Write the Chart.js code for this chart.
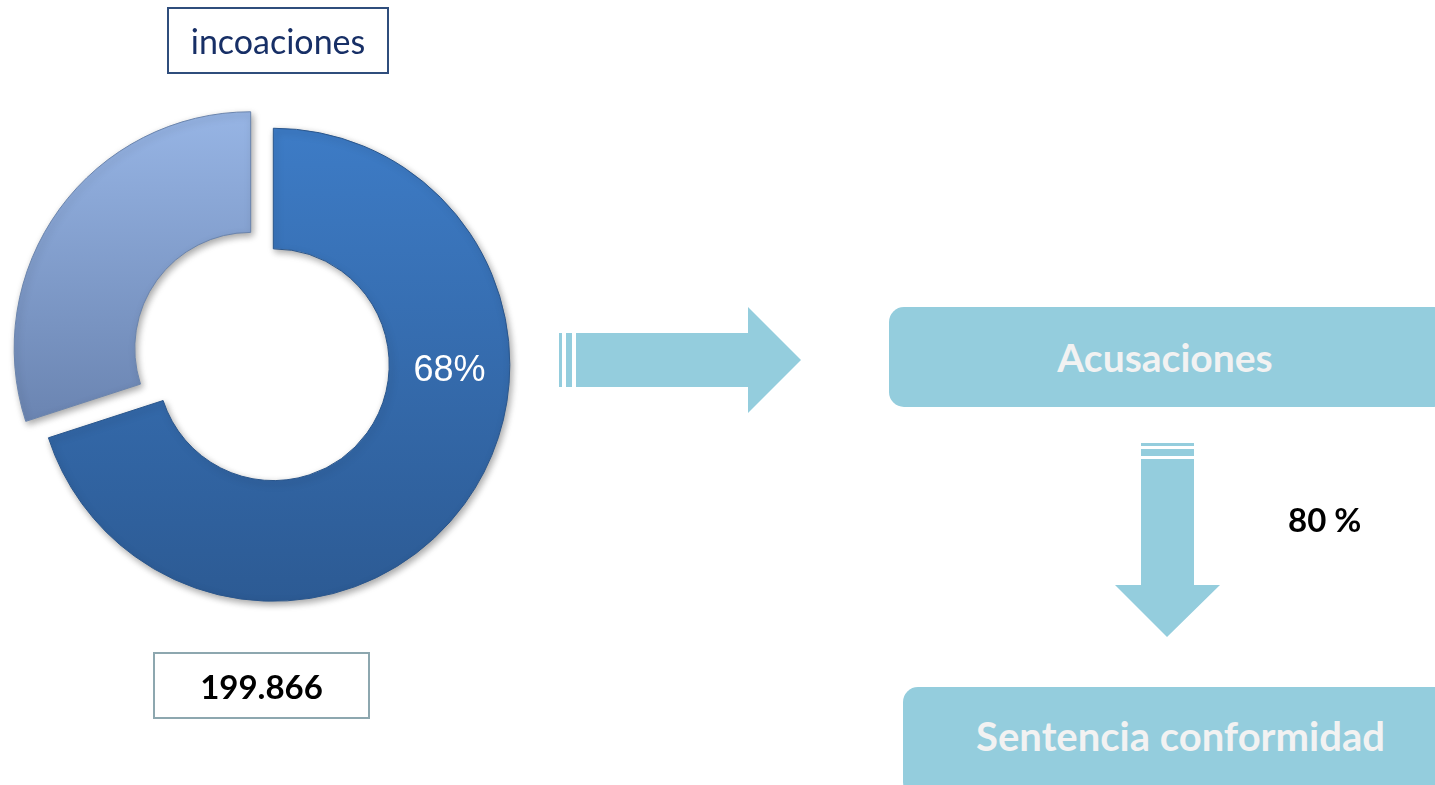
<!DOCTYPE html>
<html>
<head>
<meta charset="utf-8">
<script src="https://cdn.jsdelivr.net/npm/chart.js@4.4.1/dist/chart.umd.min.js"></script>
<style>
    body { margin: 0; background: #fff; }
    #page { position: relative; width: 1435px; height: 785px; overflow: hidden; font-family: Lato, 'Open Sans', sans-serif; }
    #donut { position: absolute; left: 0; top: 0; }
    .box { position: absolute; display: flex; align-items: center; justify-content: center; box-sizing: border-box; }
    #title-box { left: 167px; top: 7px; width: 222px; height: 67px; border: 2px solid #2f4d7c; color: #172f66; font-size: 34px; }
    #total-box { left: 153px; top: 652px; width: 217px; height: 67px; border: 2px solid #8da7af; color: #000; font-size: 33px; font-weight: bold; }
    .step { background: #94cddd; color: #f2f2f2; font-weight: bold; border-radius: 15px; }
    #step1 { left: 889px; top: 307px; width: 560px; height: 100px; padding-right: 8px; font-size: 39px; }
    #step2 { left: 903px; top: 687px; width: 560px; height: 110px; padding-right: 5px; padding-bottom: 12px; font-size: 40px; }
    #pct { position: absolute; left: 1288px; top: 499px; font-size: 33px; font-weight: bold; color: #000; }
    svg { position: absolute; left: 0; top: 0; }
</style>
</head>
<body>
<div id="page">
    <canvas id="donut" width="1435" height="785"></canvas>
    <svg width="1435" height="785">
        <g fill="#94cddd">
            <!-- right arrow -->
            <rect x="559" y="333" width="3" height="54"/>
            <rect x="566" y="333" width="6" height="54"/>
            <polygon points="576,333 748,333 748,307 801,360 748,413 748,387 576,387"/>
            <!-- down arrow -->
            <rect x="1141" y="443" width="53" height="3"/>
            <rect x="1141" y="449" width="53" height="7"/>
            <polygon points="1141,459 1194,459 1194,585 1220,585 1167,637 1115,585 1141,585"/>
        </g>
    </svg>
    <div class="box" id="title-box"></div>
    <div class="box" id="total-box"></div>
    <div class="box step" id="step1"></div>
    <div class="box step" id="step2"></div>
    <div id="pct"></div>
</div>
<script>
const segmentLabels = ['Acusaciones', 'Resto'];
const shareValues = [70, 30];
const shareLabel = '68%';
const titleText = 'incoaciones';
const totalText = '199.866';
const stepLabels = ['Acusaciones', 'Sentencia conformidad'];
const conformidadText = '80 %';

document.getElementById('title-box').textContent = titleText;
document.getElementById('total-box').textContent = totalText;
document.getElementById('step1').textContent = stepLabels[0];
document.getElementById('step2').textContent = stepLabels[1];
document.getElementById('pct').textContent = conformidadText;

// how far each slice is pulled out of the ring (exploded look)
const sliceShift = 14;

function sliceFill(context) {
    const chart = context.chart;
    const dark = context.dataIndex === 0;
    if (!chart.chartArea) return dark ? '#3669ad' : '#809cce';
    const g = chart.ctx.createLinearGradient(0, dark ? 128 : 112, 0, dark ? 600 : 420);
    if (dark) {
        g.addColorStop(0, '#3d7bc5');
        g.addColorStop(1, '#2c5a93');
    } else {
        g.addColorStop(0, '#98b6e6');
        g.addColorStop(1, '#6c86b3');
    }
    return g;
}

// draw each arc moved out along its middle angle, with a soft shadow
const explodePlugin = {
    id: 'explode',
    beforeDatasetDraw(chart, args) {
        const ctx = chart.ctx;
        args.meta.data.forEach(arc => {
            const half = (arc.startAngle + arc.endAngle) / 2;
            ctx.save();
            ctx.translate(Math.cos(half) * sliceShift, Math.sin(half) * sliceShift);
            ctx.shadowColor = 'rgba(0,0,0,0.35)';
            ctx.shadowBlur = 7;
            ctx.shadowOffsetX = 2;
            ctx.shadowOffsetY = 3;
            arc.draw(ctx);
            ctx.restore();
        });
        return false;
    }
};

// percentage label on the right side of the big slice
const labelPlugin = {
    id: 'sliceLabel',
    afterDraw(chart) {
        const arc = chart.getDatasetMeta(0).data[0];
        const p = arc.getProps(['x', 'y', 'startAngle', 'endAngle', 'innerRadius', 'outerRadius']);
        const half = (p.startAngle + p.endAngle) / 2;
        const cx = p.x + Math.cos(half) * sliceShift;
        const cy = p.y + Math.sin(half) * sliceShift;
        const r = (p.innerRadius + p.outerRadius) / 2;
        const a = 0.034;
        const ctx = chart.ctx;
        ctx.save();
        ctx.fillStyle = '#ffffff';
        ctx.font = '36px "Liberation Sans", Arial, sans-serif';
        ctx.textAlign = 'center';
        ctx.textBaseline = 'middle';
        ctx.fillText(shareLabel, cx + Math.cos(a) * r, cy + Math.sin(a) * r);
        ctx.restore();
    }
};

new Chart(document.getElementById('donut'), {
    type: 'doughnut',
    data: {
        labels: segmentLabels,
        datasets: [{
            data: shareValues,
            backgroundColor: sliceFill,
            borderColor: ['#2a568c', '#6a84ad'],
            borderWidth: 1,
            hoverOffset: 0
        }]
    },
    options: {
        responsive: false,
        animation: false,
        radius: 236.5,
        cutout: '49%',
        layout: { padding: { left: 0, top: 0, right: 911, bottom: 72 } },
        plugins: {
            legend: { display: false },
            tooltip: { enabled: false }
        }
    },
    plugins: [explodePlugin, labelPlugin]
});
</script>
</body>
</html>
